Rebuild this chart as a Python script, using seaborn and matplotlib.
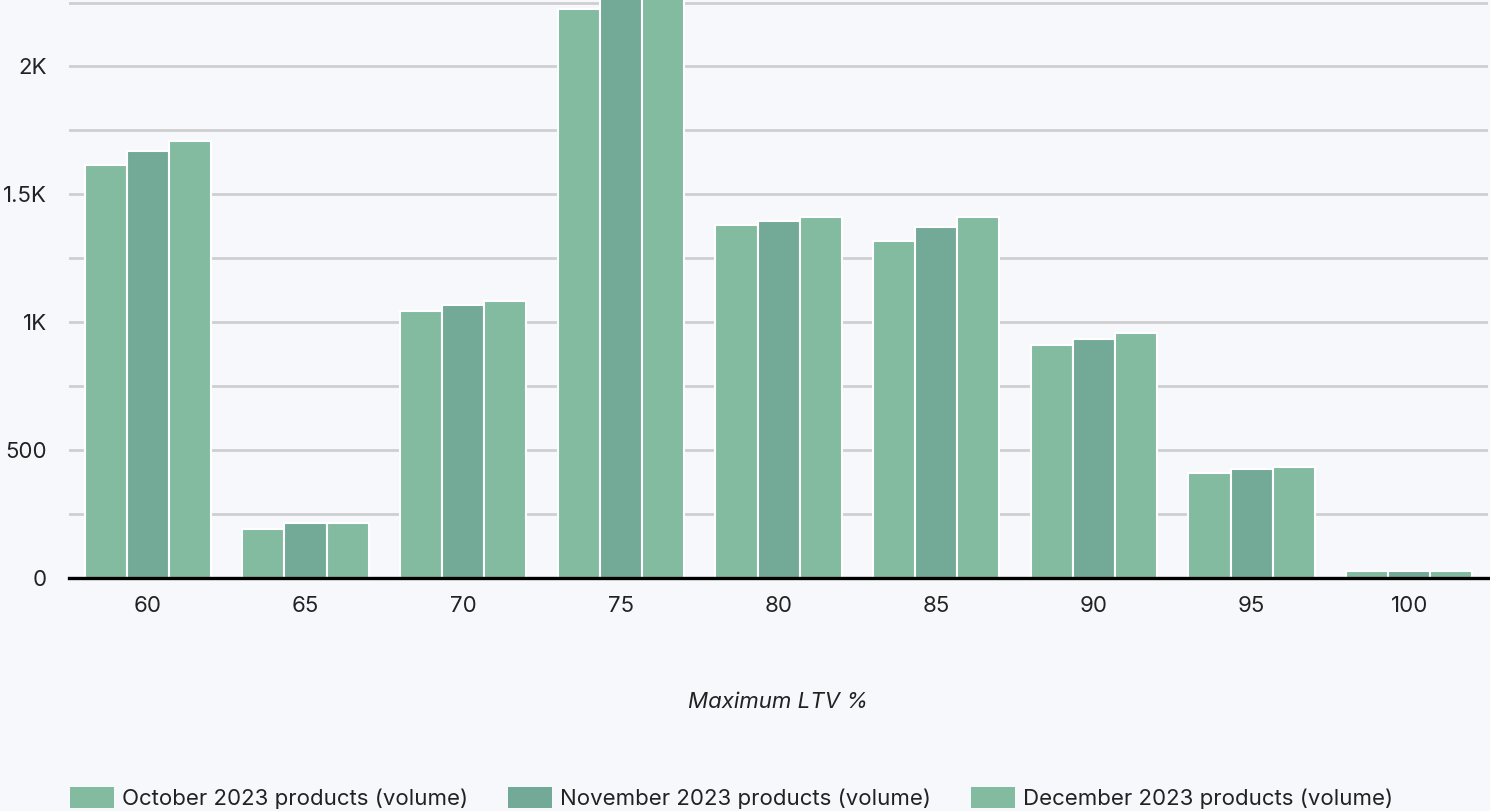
import matplotlib
matplotlib.use("Agg")
import matplotlib.pyplot as plt
from matplotlib.patches import Patch
from matplotlib.ticker import FixedLocator, FuncFormatter
import pandas as pd
import seaborn as sns

# Maximum LTV buckets (x axis)
ltv = ["60", "65", "70", "75", "80", "85", "90", "95", "100"]

# Product volumes per month
october = [1613, 191, 1043, 2223, 1379, 1316, 910, 410, 27]
november = [1668, 215, 1066, 2300, 1395, 1371, 934, 426, 27]
december = [1707, 215, 1082, 2345, 1410, 1410, 957, 434, 27]

series_names = [
    "October 2023 products (volume)",
    "November 2023 products (volume)",
    "December 2023 products (volume)",
]
colors = ["#83BBA1", "#72A997", "#83BBA1"]

rows = []
for name, vals in zip(series_names, [october, november, december]):
    for cat, v in zip(ltv, vals):
        rows.append({"ltv": cat, "series": name, "volume": v})
df = pd.DataFrame(rows)

sns.set_theme(style="white")
bg = "#F6F8FC"
plt.rcParams["font.family"] = ["Inter", "DejaVu Sans"]

fig = plt.figure(figsize=(14.9, 8.11), dpi=100, facecolor=bg)
ax = fig.add_axes([0.0463, 0.2873, 0.9524, 0.7127])
ax.set_facecolor(bg)

sns.barplot(
    data=df, x="ltv", y="volume", hue="series", order=ltv,
    hue_order=series_names, palette=colors, width=0.8,
    edgecolor="white", linewidth=1.5, saturation=1, ax=ax, legend=False,
    zorder=3,
)

ax.set_xlim(-0.5, 8.5)
ax.set_ylim(0, 2260)

ticks = [0, 250, 500, 750, 1000, 1250, 1500, 1750, 2000, 2250]
labels = {0: "0", 500: "500", 1000: "1K", 1500: "1.5K", 2000: "2K"}
ax.yaxis.set_major_locator(FixedLocator(ticks))
ax.yaxis.set_major_formatter(FuncFormatter(lambda v, p: labels.get(int(round(v)), "")))
ax.grid(axis="y", color="#CFCFD2", linewidth=2.0, zorder=0)
ax.set_axisbelow(True)

for s in ["top", "right", "left"]:
    ax.spines[s].set_visible(False)
ax.spines["bottom"].set_color("black")
ax.spines["bottom"].set_linewidth(2.4)
ax.spines["bottom"].set_zorder(5)

ax.tick_params(axis="y", length=0, pad=16, labelsize=16, labelcolor="#222222")
ax.tick_params(axis="x", length=0, pad=13, labelsize=16, labelcolor="#222222")

ax.set_ylabel("")
ax.set_xlabel("Maximum LTV %", fontsize=16, fontstyle="italic",
              color="#222222", labelpad=55)

handles = [Patch(facecolor=c, edgecolor="none") for c in colors]
fig.legend(
    handles, series_names, loc="lower left", bbox_to_anchor=(0.0396, -0.0116),
    ncol=3, frameon=False, fontsize=16, handlelength=1.98, handleheight=1.04,
    handletextpad=0.36, columnspacing=1.8, borderpad=0, labelcolor="#222222",
)

fig.savefig("out.png", dpi=100, facecolor=bg)
